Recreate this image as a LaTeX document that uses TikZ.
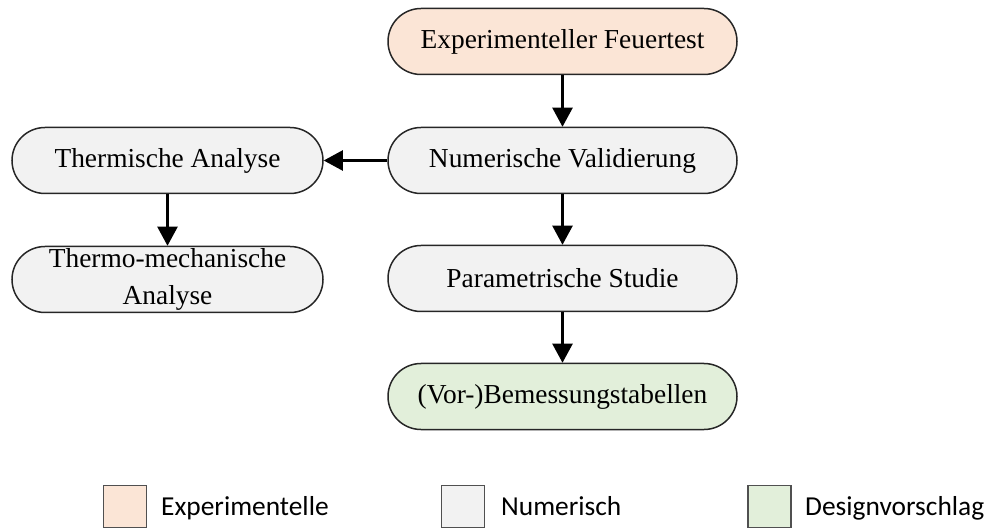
\documentclass[tikz,border=0pt]{standalone}
\usepackage{fontspec}
\setmainfont{Liberation Serif}
\newfontfamily\legendfont{Carlito}
\usetikzlibrary{arrows.meta}

\definecolor{expfill}{HTML}{FBE5D6}
\definecolor{numfill}{HTML}{F2F2F2}
\definecolor{desfill}{HTML}{E2EFDA}
\definecolor{edge}{HTML}{262626}
\definecolor{legedge}{HTML}{505050}

\tikzset{
  pill/.style={draw=edge, line width=1.5bp, rounded corners=33bp,
    minimum height=66bp, inner sep=0pt, align=center,
    font=\fontsize{27.5}{38}\selectfont},
  widepill/.style={pill, minimum width=349bp},
  narrowpill/.style={pill, minimum width=311bp},
  flow/.style={draw=black, line width=2.2bp,
    -{Triangle[width=20bp,length=19bp]}},
  legbox/.style={draw=legedge, line width=1.8bp, minimum width=43bp,
    minimum height=42bp, inner sep=0pt},
  legtext/.style={anchor=base west, inner sep=0pt,
    font=\legendfont\fontsize{27.5}{32}\selectfont}
}

\begin{document}
\begin{tikzpicture}[x=1bp,y=-1bp]
  \useasboundingbox (0,0) rectangle (988,529);

  % process steps
  \node[widepill, fill=expfill] (fire) at (562.5,41.5) {Experimenteller Feuertest};
  \node[widepill, fill=numfill] (valid) at (562.5,160.5) {Numerische Validierung};
  \node[narrowpill, fill=numfill] (therm) at (167.5,160.5) {Thermische Analyse};
  \node[narrowpill, fill=numfill] (thmech) at (167.5,279.5) {Thermo-mechanische\\Analyse};
  \node[widepill, fill=numfill] (param) at (562.5,278.5) {Parametrische Studie};
  \node[widepill, fill=desfill] (tables) at (562.5,396.5) {(Vor-)Bemessungstabellen};

  % flow connectors
  \draw[flow] (fire) -- (valid);
  \draw[flow] (valid) -- (therm);
  \draw[flow] (therm) -- (thmech);
  \draw[flow] (valid) -- (param);
  \draw[flow] (param) -- (tables);

  % legend
  \node[legbox, fill=expfill] (lexp) at (125,506.5) {};
  \node[legtext] (lexpt) at (161,515) {Experimentelle};
  \node[legbox, fill=numfill] (lnum) at (463,506.5) {};
  \node[legtext] (lnumt) at (501,515) {Numerisch};
  \node[legbox, fill=desfill] (ldes) at (769.5,506.5) {};
  \node[legtext] (ldest) at (805,515) {Designvorschlag};
\end{tikzpicture}
\end{document}
